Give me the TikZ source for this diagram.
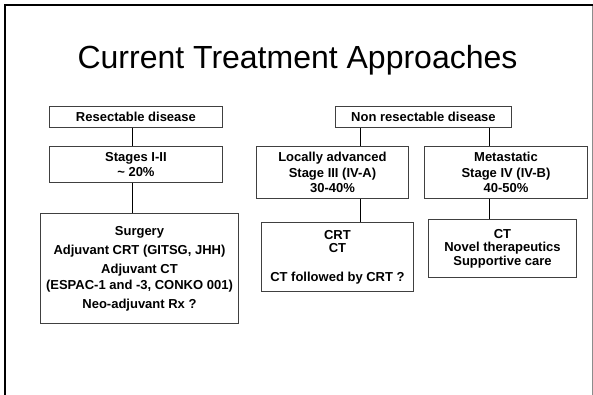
\documentclass[tikz,border=0pt]{standalone}
\usepackage{fontspec}
\setmainfont{Liberation Sans}
\begin{document}
\begin{tikzpicture}[x=1pt,y=-1pt,
  box/.style={draw=black!75, line width=0.9pt, inner sep=0pt, anchor=north west, align=center, font=\bfseries},
  conn/.style={draw=black, line width=0.9pt},
  ttl/.style={font=\fontsize{32}{36}\selectfont, anchor=base}]
\useasboundingbox (0,0) rectangle (593,395);
\fill[white] (0,0) rectangle (593,395);
% frame
\draw[line width=2pt] (5,395) -- (5,5.5) -- (593,5.5);
\draw[black!45, line width=1pt] (592,6.5) -- (592,395);
% title
\node[ttl] (title) at (297.5,69) {Current Treatment Approaches};
% left branch
\node[box, minimum width=173pt, minimum height=21pt, font=\bfseries\fontsize{13}{15}\selectfont] (b1) at (49,106) {Resectable disease};
\node[box, minimum width=173pt, minimum height=36pt, font=\bfseries\fontsize{13}{15}\selectfont] (b2) at (49,146) {Stages I-II\\\textasciitilde{} 20\%};
\node[box, minimum width=198pt, minimum height=110pt, font=\bfseries\fontsize{13}{16}\selectfont] (b3) at (40,213) {Surgery\\[3pt]Adjuvant CRT (GITSG, JHH)\\[3pt]Adjuvant CT\\(ESPAC-1 and -3, CONKO 001)\\[3pt]Neo-adjuvant Rx ?};
% right branch
\node[box, minimum width=176pt, minimum height=21pt, font=\bfseries\fontsize{13}{15}\selectfont] (b4) at (335,106) {Non resectable disease};
\node[box, minimum width=152pt, minimum height=52pt, font=\bfseries\fontsize{13}{15.5}\selectfont] (b5) at (256,146) {Locally advanced\\Stage III (IV-A)\\30-40\%};
\node[box, minimum width=163pt, minimum height=52pt, font=\bfseries\fontsize{13}{15.5}\selectfont] (b6) at (424,146) {Metastatic\\Stage IV (IV-B)\\40-50\%};
\node[box, minimum width=152pt, minimum height=69pt, font=\bfseries\fontsize{13}{13}\selectfont] (b7) at (261,222) {CRT\\CT\\[16pt]CT followed by CRT ?};
\node[box, minimum width=148pt, minimum height=58pt, font=\bfseries\fontsize{13}{13.5}\selectfont] (b8) at (428,219) {CT\\Novel therapeutics\\Supportive care};
% connectors
\draw[conn] ([xshift=-3.5pt]b1.south) -- ([xshift=-3.5pt]b2.north);
\draw[conn] ([xshift=-3.5pt]b2.south) -- ([xshift=-7pt]b3.north);
\path ([xshift=28pt]b5.north) coordinate (k1);
\path ([xshift=-16.5pt]b6.north) coordinate (k2);
\draw[conn] (k1) -- (k1 |- b4.south);
\draw[conn] (k2) -- (k2 |- b4.south);
\draw[conn] ([xshift=28pt]b5.south) -- ([xshift=23pt]b7.north);
\draw[conn] ([xshift=-16.5pt]b6.south) -- ([xshift=-13pt]b8.north);
\end{tikzpicture}
\end{document}
